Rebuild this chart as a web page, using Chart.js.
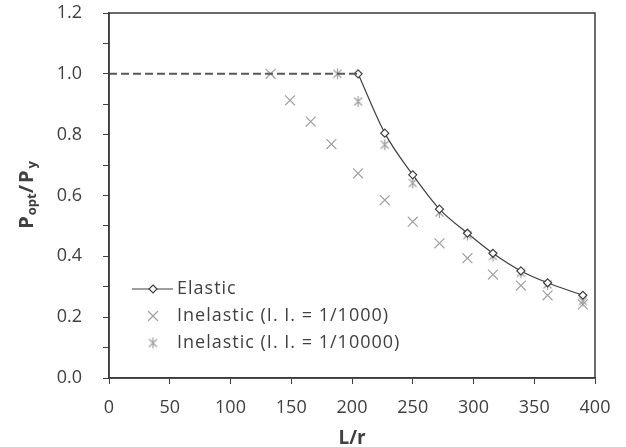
<!DOCTYPE html>
<html>
<head>
<meta charset="utf-8">
<script src="https://cdn.jsdelivr.net/npm/chart.js@4"></script>
<style>
  html, body { margin: 0; padding: 0; background: #fff; }
  #wrap { width: 626px; height: 447px; }
</style>
</head>
<body>
<div id="wrap"><canvas id="myChart" width="626" height="447"></canvas></div>
<script>
// values
const plateauX = [0, 205];
const plateauY = [1.0, 1.0];
const elasticX = [205, 227, 250, 272, 295, 316, 339, 361, 390];
const elasticY = [1.0, 0.805, 0.668, 0.555, 0.476, 0.41, 0.352, 0.313, 0.272];
const inel1000X = [133, 149, 166, 183, 205, 227, 250, 272, 295, 316, 339, 361, 390];
const inel1000Y = [1.0, 0.913, 0.843, 0.769, 0.673, 0.585, 0.514, 0.443, 0.394, 0.34, 0.304, 0.272, 0.242];
const inel10000X = [188, 205, 227, 250, 272, 295, 316, 339, 361, 390];
const inel10000Y = [1.0, 0.909, 0.767, 0.641, 0.544, 0.47, 0.401, 0.346, 0.308, 0.253];
const seriesNames = ['Elastic', 'Inelastic (I. I. = 1/1000)', 'Inelastic (I. I. = 1/10000)'];

const FONT = '"Open Sans", Lato, sans-serif';
const TEXT = '#404040';
const MARK = '#a0a0a0';

function toPoints(xs, ys) {
    return xs.map((x, i) => ({ x: x, y: ys[i] }));
}

// asterisk marker: an x with a vertical stroke
function makeAsterisk(size) {
    const c = document.createElement('canvas');
    c.width = size; c.height = size;
    const g = c.getContext('2d');
    const m = size / 2, r = size / 2 - 1;
    const d = r * 0.72;
    g.strokeStyle = MARK;
    g.lineWidth = 1.2;
    g.beginPath();
    g.moveTo(m - d, m - d); g.lineTo(m + d, m + d);
    g.moveTo(m + d, m - d); g.lineTo(m - d, m + d);
    g.moveTo(m, m - r); g.lineTo(m, m + r);
    g.stroke();
    return c;
}
const asterisk = makeAsterisk(13);

// top and right sides of the frame
const framePlugin = {
    id: 'frame',
    afterDraw(chart) {
        const a = chart.chartArea, c = chart.ctx;
        c.save();
        c.strokeStyle = '#3a3a3a';
        c.lineWidth = 1.5;
        c.strokeRect(a.left, a.top, a.right - a.left, a.bottom - a.top);
        c.restore();
    }
};

// y title with subscripts + legend inside the plot
const textPlugin = {
    id: 'texts',
    afterDraw(chart) {
        const c = chart.ctx;
        c.save();
        // y axis title
        c.translate(27, 195);
        c.rotate(-Math.PI / 2);
        c.fillStyle = TEXT;
        c.textBaseline = 'middle';
        const big = 'bold 20px ' + FONT, small = 'bold 13px ' + FONT;
        const parts = [['P', big, 0, '1px'], ['opt', small, 5, '0px'], ['/P', big, 0, '2px'], ['y', small, 5, '0px']];
        let w = 0;
        parts.forEach(p => { c.font = p[1]; c.letterSpacing = p[3]; w += c.measureText(p[0]).width; });
        let x = -w / 2;
        parts.forEach(p => {
            c.font = p[1];
            c.letterSpacing = p[3];
            c.fillText(p[0], x, p[2]);
            x += c.measureText(p[0]).width;
        });
        c.restore();

        // legend
        c.save();
        const rows = [289, 316, 343];
        const mx = 153, tx = 177;
        c.font = '18px ' + FONT;
        c.letterSpacing = '1px';
        c.fillStyle = TEXT;
        c.textBaseline = 'middle';
        seriesNames.forEach((name, i) => c.fillText(name, tx, rows[i]));
        // elastic sample
        c.strokeStyle = '#404040';
        c.lineWidth = 1.2;
        c.beginPath();
        c.moveTo(132, rows[0]); c.lineTo(173, rows[0]);
        c.stroke();
        c.fillStyle = '#fff';
        c.beginPath();
        c.moveTo(mx, rows[0] - 4); c.lineTo(mx + 4, rows[0]);
        c.lineTo(mx, rows[0] + 4); c.lineTo(mx - 4, rows[0]);
        c.closePath(); c.fill(); c.stroke();
        // x sample
        c.strokeStyle = MARK;
        c.beginPath();
        c.moveTo(mx - 5, rows[1] - 5); c.lineTo(mx + 5, rows[1] + 5);
        c.moveTo(mx + 5, rows[1] - 5); c.lineTo(mx - 5, rows[1] + 5);
        c.stroke();
        c.drawImage(asterisk, mx - 6.5, rows[2] - 6.5);
        c.restore();
    }
};

const ctx = document.getElementById('myChart').getContext('2d');

const myChart = new Chart(ctx, {
    type: 'scatter',
    data: {
        datasets: [
            {
                label: 'plateau',
                data: toPoints(plateauX, plateauY),
                showLine: true,
                borderColor: '#595959',
                borderWidth: 2,
                borderDash: [8, 4],
                pointRadius: 0
            },
            {
                label: seriesNames[0],
                data: toPoints(elasticX, elasticY),
                showLine: true,
                cubicInterpolationMode: 'monotone',
                borderColor: '#404040',
                borderWidth: 1.2,
                pointStyle: 'rectRot',
                pointRadius: 4,
                pointBorderWidth: 1.2,
                pointBackgroundColor: '#fff',
                pointBorderColor: '#404040'
            },
            {
                label: seriesNames[1],
                data: toPoints(inel1000X, inel1000Y),
                pointStyle: 'crossRot',
                pointRadius: 7,
                pointBorderWidth: 1.2,
                borderColor: MARK,
                pointBorderColor: MARK
            },
            {
                label: seriesNames[2],
                data: toPoints(inel10000X, inel10000Y),
                pointStyle: asterisk,
                pointRadius: 6
            }
        ]
    },
    options: {
        responsive: false,
        animation: false,
        layout: { padding: { left: 0, right: 31, top: 13, bottom: 0 } },
        plugins: {
            legend: { display: false },
            tooltip: { enabled: false }
        },
        scales: {
            x: {
                type: 'linear',
                min: 0,
                max: 400,
                afterFit: s => {
                    s.height = 69;
                    s.paddingLeft = 0;
                    s.paddingRight = 0;
                },
                ticks: {
                    stepSize: 50,
                    padding: 13,
                    color: TEXT,
                    font: { family: FONT, size: 18 },
                    maxRotation: 0
                },
                grid: {
                    drawOnChartArea: false,
                    tickLength: 6,
                    color: '#404040'
                },
                border: { color: '#3a3a3a', width: 1.5 },
                title: {
                    display: true,
                    text: 'L/r',
                    color: TEXT,
                    font: { family: FONT, size: 19, weight: 'bold' },
                    padding: { top: 4, bottom: -3 }
                }
            },
            y: {
                min: 0,
                max: 1.2,
                afterFit: s => {
                    s.width = 109;
                    s.paddingTop = 0;
                    s.paddingBottom = 0;
                },
                ticks: {
                    stepSize: 0.1,
                    padding: 21,
                    color: TEXT,
                    font: { family: FONT, size: 18 },
                    callback: v => Math.round(v * 10) % 2 === 0 ? v.toFixed(1) : ''
                },
                grid: {
                    drawOnChartArea: false,
                    tickLength: 6,
                    color: '#404040'
                },
                border: { color: '#3a3a3a', width: 1.5 }
            }
        }
    },
    plugins: [framePlugin, textPlugin]
});
</script>
</body>
</html>
